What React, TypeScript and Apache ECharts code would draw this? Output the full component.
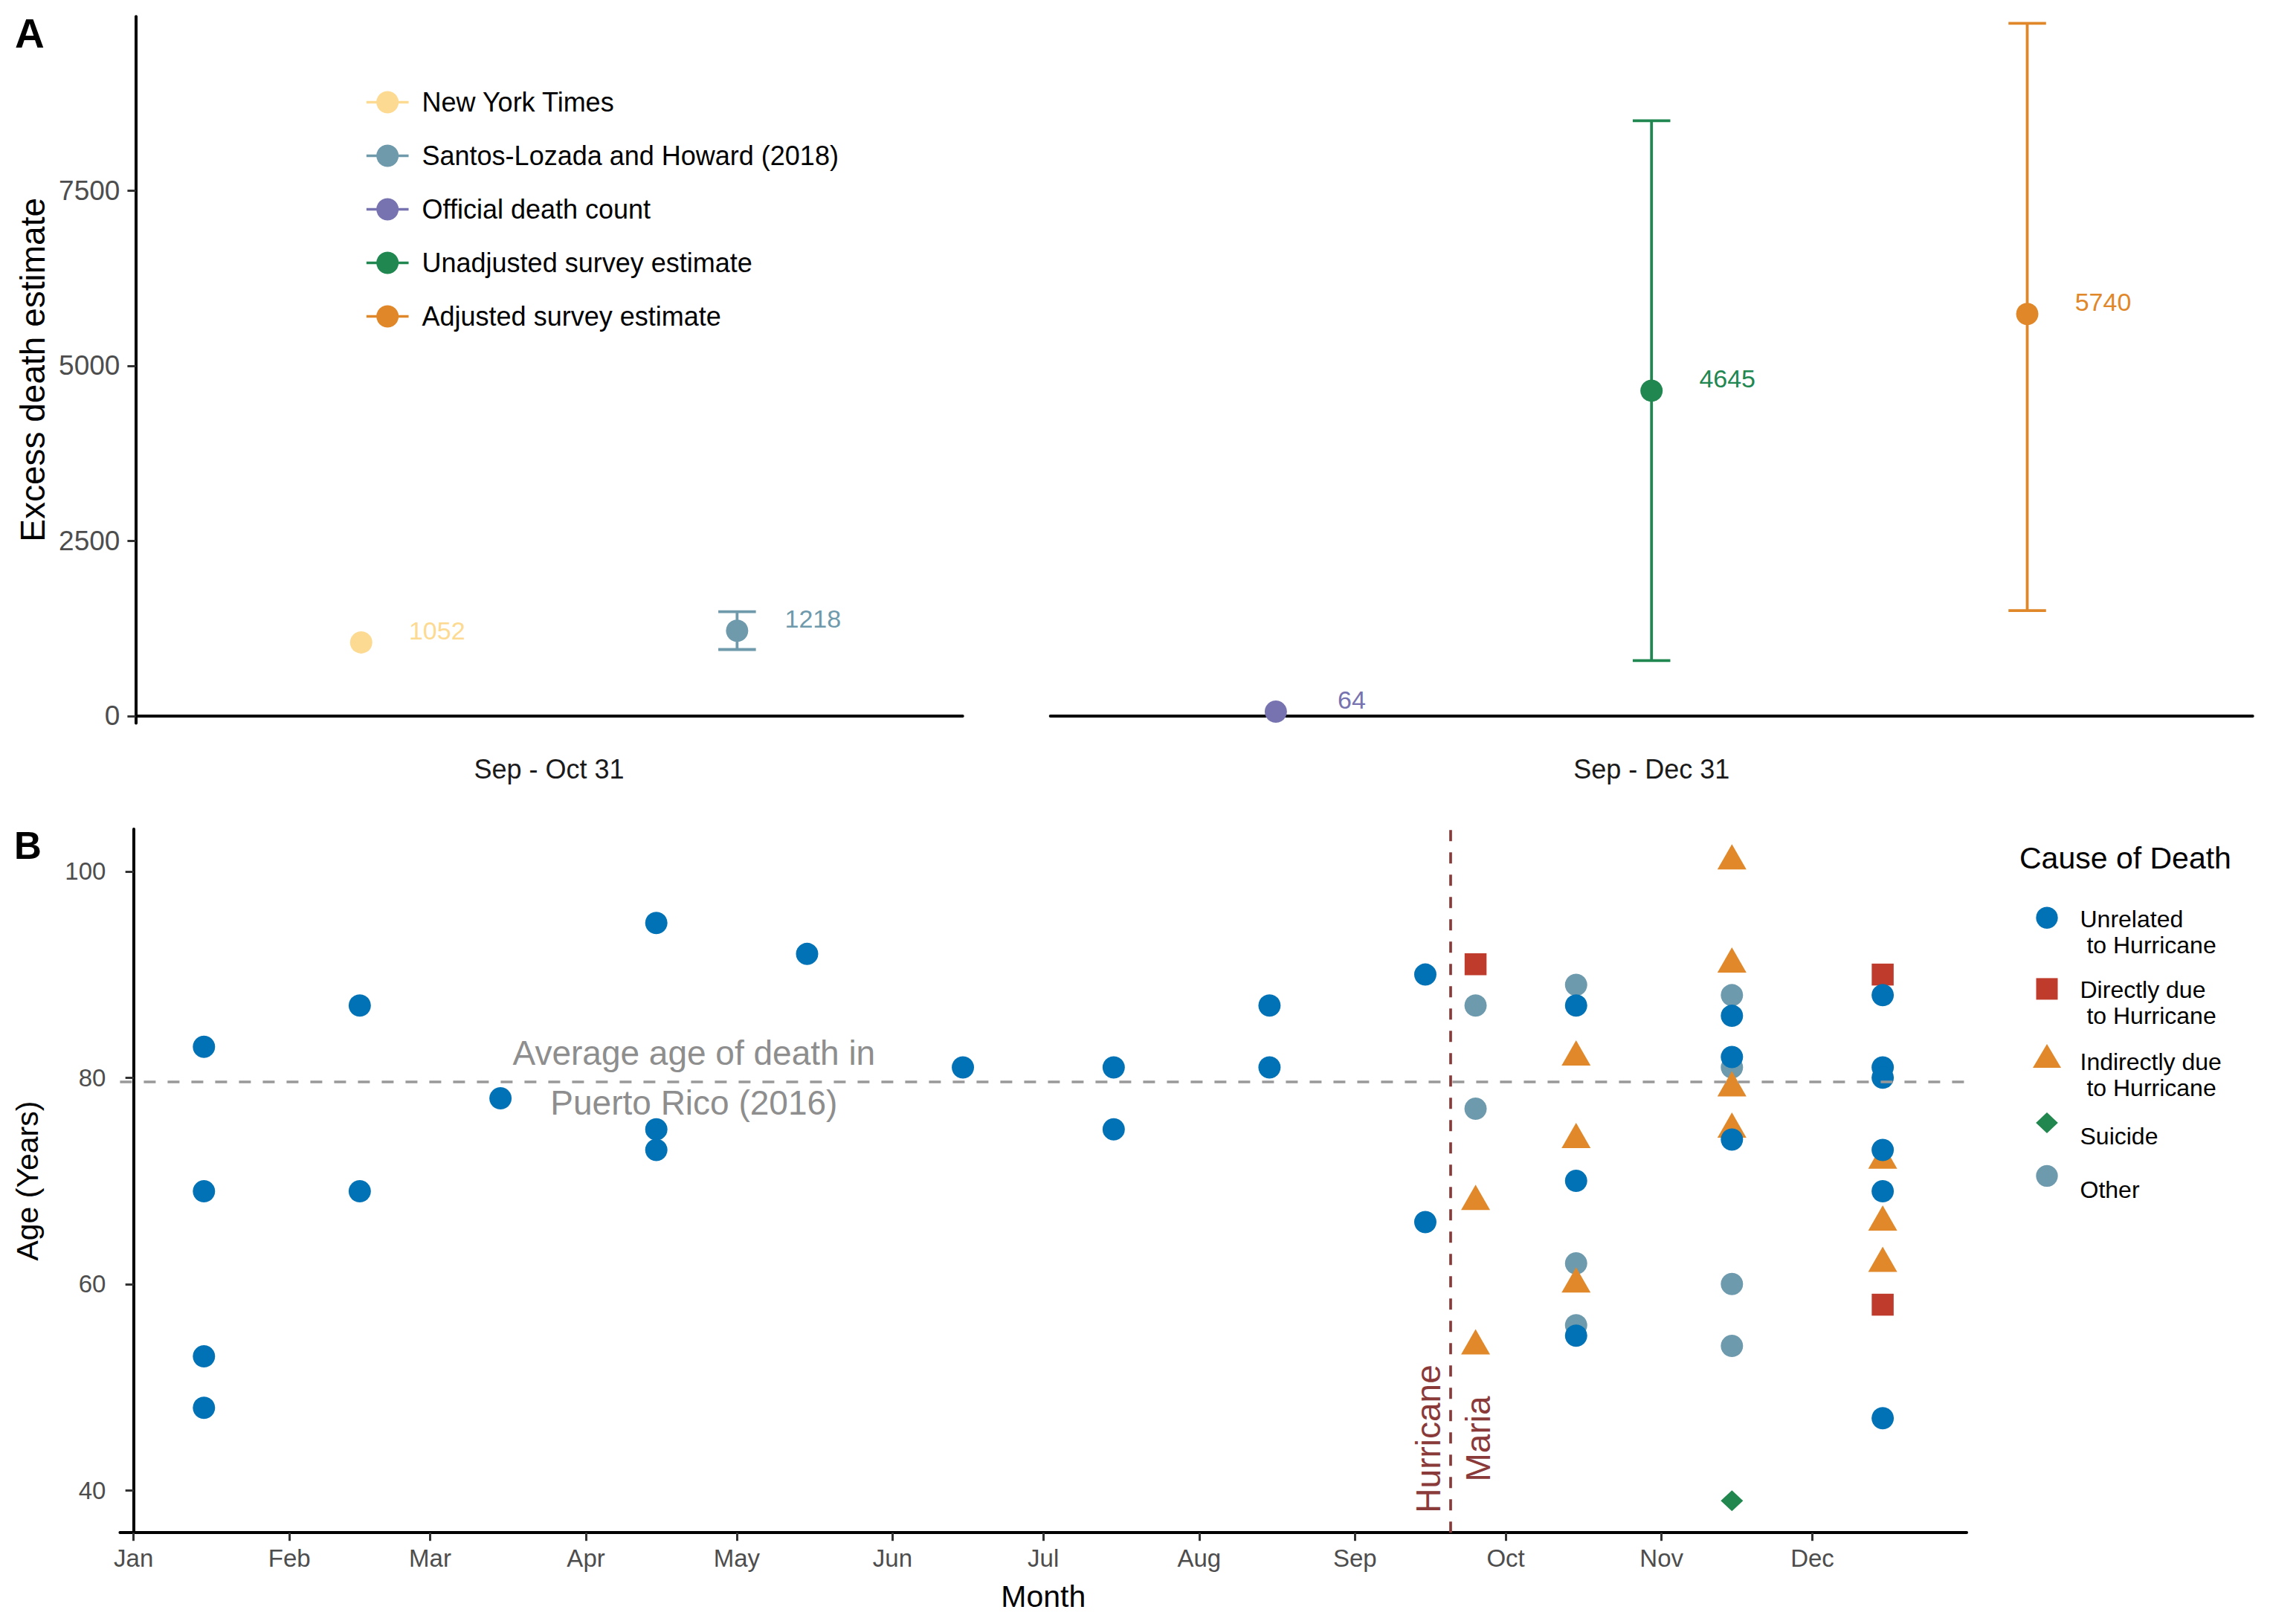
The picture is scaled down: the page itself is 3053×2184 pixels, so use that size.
import React, { useEffect, useRef } from "react";
import * as echarts from "echarts";

const FONT = "'Liberation Sans', Arial, Helvetica, sans-serif";

// ---------------- Panel A data ----------------
const estimateNames = [
  "New York Times",
  "Santos-Lozada and Howard (2018)",
  "Official death count",
  "Unadjusted survey estimate",
  "Adjusted survey estimate",
];
const periodLabels = ["Sep - Oct 31", "Sep - Dec 31"];
const estimatePeriod = [0, 0, 1, 1, 1];
const estimateValues = [1052, 1218, 64, 4645, 5740];
const estimateLower: (number | null)[] = [null, 950, null, 793, 1506];
const estimateUpper: (number | null)[] = [null, 1490, null, 8498, 9889];
const estimateColors = ["#FDDA91", "#6E9AAC", "#7773B0", "#218750", "#E0872A"];
const excessTicks = [0, 2500, 5000, 7500];
const excessMin = -101;
const excessMax = 9985;

// ---------------- Panel B data ----------------
const monthTickLabels = ["Jan", "Feb", "Mar", "Apr", "May", "Jun", "Jul", "Aug", "Sep", "Oct", "Nov", "Dec"];
const ageTicks = [40, 60, 80, 100];
const averageAgeOfDeath = 79.6;
const hurricaneDate = "2017-09-20";

const unrelatedDeaths: [string, number][] = [
  ["2017-01-15", 83], ["2017-01-15", 69], ["2017-01-15", 53], ["2017-01-15", 48],
  ["2017-02-15", 87], ["2017-02-15", 69],
  ["2017-03-15", 78],
  ["2017-04-15", 95], ["2017-04-15", 75], ["2017-04-15", 73],
  ["2017-05-15", 92],
  ["2017-06-15", 81],
  ["2017-07-15", 81], ["2017-07-15", 75],
  ["2017-08-15", 87], ["2017-08-15", 81],
  ["2017-09-15", 90], ["2017-09-15", 66],
  ["2017-10-15", 87], ["2017-10-15", 70], ["2017-10-15", 55],
  ["2017-11-15", 86], ["2017-11-15", 82], ["2017-11-15", 74],
  ["2017-12-15", 88], ["2017-12-15", 81], ["2017-12-15", 80], ["2017-12-15", 73], ["2017-12-15", 69], ["2017-12-15", 47],
];
const directDeaths: [string, number][] = [
  ["2017-09-25", 91], ["2017-12-15", 90], ["2017-12-15", 58],
];
const indirectDeaths: [string, number][] = [
  ["2017-09-25", 68], ["2017-09-25", 54],
  ["2017-10-15", 82], ["2017-10-15", 74], ["2017-10-15", 60],
  ["2017-11-15", 101], ["2017-11-15", 91], ["2017-11-15", 79], ["2017-11-15", 75],
  ["2017-12-15", 72], ["2017-12-15", 66], ["2017-12-15", 62],
];
const suicideDeaths: [string, number][] = [["2017-11-15", 39]];
const otherDeaths: [string, number][] = [
  ["2017-09-25", 87], ["2017-09-25", 77],
  ["2017-10-15", 89], ["2017-10-15", 62], ["2017-10-15", 56],
  ["2017-11-15", 88], ["2017-11-15", 81], ["2017-11-15", 60], ["2017-11-15", 54],
];

const causeNames = [
  "Unrelated\n to Hurricane",
  "Directly due\n to Hurricane",
  "Indirectly due\n to Hurricane",
  "Suicide",
  "Other",
];
const causeColors = ["#0072B5", "#BF3B2B", "#E0882A", "#21874F", "#6E9AAD"];

const annotationTexts = ["Average age of death in\nPuerto Rico (2016)", "Hurricane\nMaria"];
const annotationPoints: [number, number][] = [
  [111.5, 80],
  [262.6, 45],
];

// ---------------- helpers ----------------
const DAY = 86400000;
const dayOfYear = (s: string) => (Date.parse(s + "T00:00:00Z") - Date.parse("2017-01-01T00:00:00Z")) / DAY;
const monthStarts = monthTickLabels.map((_, i) => dayOfYear(`2017-${String(i + 1).padStart(2, "0")}-01`));

export default function App() {
  const ref = useRef<HTMLDivElement>(null);

  useEffect(() => {
    if (!ref.current) return;
    const chart = echarts.init(ref.current, undefined, { renderer: "svg" });

    // --- panel A positions within facets
    const pos: number[] = [];
    const counts = [0, 0];
    estimatePeriod.forEach((p, i) => {
      counts[p] += 1;
      pos[i] = counts[p];
    });

    // --- panel B ranges (ggplot 5% expansion)
    const causeData = [unrelatedDeaths, directDeaths, indirectDeaths, suicideDeaths, otherDeaths];
    const allDays = causeData.flat().map((d) => dayOfYear(d[0]));
    const allAges = causeData.flat().map((d) => d[1]);
    const dMin = Math.min(...allDays), dMax = Math.max(...allDays);
    const aMin = Math.min(...allAges), aMax = Math.max(...allAges);
    const dPad = (dMax - dMin) * 0.05, aPad = (aMax - aMin) * 0.05;

    const tickStyle = { show: true, length: 11, lineStyle: { color: "#333333", width: 3 } };
    const axisLineStyle = { show: true, lineStyle: { color: "#000000", width: 4 } };

    const errorBarSeries = (facet: number) => ({
      type: "custom",
      xAxisIndex: facet,
      yAxisIndex: facet,
      silent: true,
      z: 2,
      data: estimateNames
        .map((_, i) => i)
        .filter((i) => estimatePeriod[i] === facet && estimateLower[i] != null)
        .map((i) => [pos[i], estimateLower[i], estimateUpper[i], i]),
      renderItem: (_p: any, api: any) => {
        const x = api.value(0);
        const a = api.coord([x, api.value(1)]);
        const b = api.coord([x, api.value(2)]);
        const half = api.size([0.1, 0])[0] / 2;
        const style = { stroke: estimateColors[api.value(3)], lineWidth: 3.8 };
        return {
          type: "group",
          children: [
            { type: "line", shape: { x1: a[0], y1: a[1], x2: b[0], y2: b[1] }, style },
            { type: "line", shape: { x1: a[0] - half, y1: a[1], x2: a[0] + half, y2: a[1] }, style },
            { type: "line", shape: { x1: b[0] - half, y1: b[1], x2: b[0] + half, y2: b[1] }, style },
          ],
        };
      },
    });

    const pointSeries = estimateNames.map((name, i) => ({
      type: "line",
      name,
      xAxisIndex: estimatePeriod[i],
      yAxisIndex: estimatePeriod[i],
      data: [[pos[i], estimateValues[i]]],
      symbol: "circle",
      symbolSize: 30,
      showSymbol: true,
      itemStyle: { color: estimateColors[i], opacity: 1 },
      lineStyle: { color: estimateColors[i], width: 3.7 },
      z: 3,
      label: {
        show: true,
        position: "inside",
        offset: [102, -16],
        formatter: String(estimateValues[i]),
        color: estimateColors[i],
        fontSize: 34,
        lineHeight: 34,
        fontFamily: FONT,
      },
    }));

    const causeSymbols: any[] = ["circle", "rect", "triangle", "diamond", "circle"];
    const causeSizes: any[] = [30, 29.5, [39, 34], [30, 28], 30];
    const causeOffsets: any[] = [[0, 0], [0, 0], [0, -5.67], [0, 0], [0, 0]];
    const drawOrder = [4, 2, 1, 0, 3];
    const causeSeries = drawOrder.map((k) => ({
      type: "scatter",
      name: causeNames[k],
      xAxisIndex: 2,
      yAxisIndex: 2,
      data: causeData[k].map((d) => [dayOfYear(d[0]), d[1]]),
      symbol: causeSymbols[k],
      symbolSize: causeSizes[k],
      symbolOffset: causeOffsets[k],
      itemStyle: { color: causeColors[k], opacity: 1 },
      z: 3,
    }));

    const refLineSeries = {
      type: "scatter",
      xAxisIndex: 2,
      yAxisIndex: 2,
      data: [],
      silent: true,
      z: 4,
      markLine: {
        silent: true,
        symbol: ["none", "none"],
        label: { show: false },
        animation: false,
        data: [
          { yAxis: averageAgeOfDeath, lineStyle: { color: "#999999", width: 3.6, type: [16, 16] } },
          { xAxis: dayOfYear(hurricaneDate), lineStyle: { color: "#8B3A3A", width: 3.7, type: [15, 15] } },
        ],
      },
    };

    const annotationColors = ["#8E8E8E", "#8B3A3A"];
    const annotationRotation = [0, Math.PI / 2];
    const annotationSeries = {
      type: "custom",
      xAxisIndex: 2,
      yAxisIndex: 2,
      silent: true,
      z: 5,
      data: annotationPoints.map((p, i) => [p[0], p[1], i]),
      renderItem: (_p: any, api: any) => {
        const idx = api.value(2);
        const pt = api.coord([api.value(0), api.value(1)]);
        return {
          type: "text",
          x: pt[0],
          y: pt[1],
          rotation: annotationRotation[idx],
          style: {
            text: annotationTexts[idx],
            fill: annotationColors[idx],
            fontSize: 46,
            fontFamily: FONT,
            align: "center",
            verticalAlign: "middle",
            lineHeight: 67,
          },
        };
      },
    };

    // ---- legend B (keys drawn as graphic elements)
    const keyX = 2753;
    const keyY = [1234.2, 1329.9, 1420, 1510, 1581.4];
    const keyTextY = [1253.5, 1348.7, 1445, 1528.3, 1599.6];
    const keyShape = (k: number): any => {
      const y = keyY[k];
      const fill = causeColors[k];
      if (k === 1) return { type: "rect", shape: { x: keyX - 14.5, y: y - 14.5, width: 29, height: 29 }, style: { fill } };
      if (k === 2)
        return { type: "polygon", shape: { points: [[keyX, y - 16], [keyX + 19, y + 16], [keyX - 19, y + 16]] }, style: { fill } };
      if (k === 3)
        return { type: "polygon", shape: { points: [[keyX, y - 13.9], [keyX + 14.8, y], [keyX, y + 13.9], [keyX - 14.8, y]] }, style: { fill } };
      return { type: "circle", shape: { cx: keyX, cy: y, r: 14.7 }, style: { fill } };
    };
    const legendGraphics: any[] = [];
    causeNames.forEach((name, k) => {
      legendGraphics.push({ ...keyShape(k), silent: true });
      legendGraphics.push({
        type: "text",
        x: 2797.5,
        y: keyTextY[k],
        silent: true,
        style: {
          text: name,
          fill: "#000000",
          fontSize: 32,
          lineHeight: 35,
          fontFamily: FONT,
          align: "left",
          verticalAlign: "middle",
        },
      });
    });

    const option: any = {
      animation: false,
      backgroundColor: "#ffffff",
      textStyle: { fontFamily: FONT },
      title: [
        { text: "A", left: 20, top: 17.8, padding: 0, textStyle: { fontSize: 55, lineHeight: 55, fontWeight: "bold", color: "#000", fontFamily: FONT } },
        { text: "B", left: 19, top: 1112, padding: 0, textStyle: { fontSize: 51, lineHeight: 51, fontWeight: "bold", color: "#000", fontFamily: FONT } },
        { text: "Cause of Death", left: 2716, top: 1133.5, padding: 0, textStyle: { fontSize: 41, lineHeight: 41, fontWeight: "normal", color: "#000", fontFamily: FONT } },
      ],
      legend: [
        {
          show: true,
          orient: "vertical",
          left: 491,
          top: 116,
          padding: 0,
          selectedMode: false,
          itemWidth: 56.7,
          itemHeight: 37.5,
          itemGap: 29,
          data: estimateNames,
          lineStyle: { width: 3.7 },
          textStyle: { color: "#000000", fontSize: 36, lineHeight: 36, fontFamily: FONT, padding: [7, 0, 0, 13] },
        },
      ],
      graphic: legendGraphics,
      grid: [
        { left: 182.4, top: 22.3, width: 1112.3, height: 950.2, containLabel: false },
        { left: 1412.7, top: 22.3, width: 1617, height: 950.2, containLabel: false },
        { left: 161.4, top: 1115, width: 2483.6, height: 946.2, containLabel: false },
      ],
      xAxis: [
        ...[0, 1].map((f) => ({
          type: "value",
          gridIndex: f,
          min: 0.4,
          max: counts[f] + 0.6,
          axisLine: axisLineStyle,
          axisTick: { show: false },
          axisLabel: { show: false },
          splitLine: { show: false },
          name: periodLabels[f],
          nameLocation: "middle",
          nameGap: 43.5,
          nameTextStyle: { fontSize: 36, lineHeight: 36, color: "#1A1A1A", fontFamily: FONT },
        })),
        {
          type: "value",
          gridIndex: 2,
          min: dMin - dPad,
          max: dMax + dPad,
          axisLine: axisLineStyle,
          axisTick: { ...tickStyle, customValues: monthStarts },
          axisLabel: {
            customValues: monthStarts,
            formatter: (v: number) => monthTickLabels[monthStarts.findIndex((m) => Math.abs(m - v) < 0.5)] ?? "",
            fontSize: 33,
            lineHeight: 33,
            color: "#4D4D4D",
            margin: 18,
            fontFamily: FONT,
          },
          splitLine: { show: false },
          name: "Month",
          nameLocation: "middle",
          nameGap: 65,
          nameTextStyle: { fontSize: 41, lineHeight: 41, color: "#000000", fontFamily: FONT },
        },
      ],
      yAxis: [
        {
          type: "value",
          gridIndex: 0,
          min: excessMin,
          max: excessMax,
          axisLine: axisLineStyle,
          axisTick: { ...tickStyle, customValues: excessTicks },
          axisLabel: {
            customValues: excessTicks,
            formatter: (v: number) => String(v),
            fontSize: 37,
            lineHeight: 37,
            color: "#4D4D4D",
            margin: 21,
            fontFamily: FONT,
          },
          splitLine: { show: false },
          name: "Excess death estimate",
          nameLocation: "middle",
          nameGap: 115,
          nameTextStyle: { fontSize: 46, lineHeight: 46, color: "#000000", fontFamily: FONT },
        },
        {
          type: "value",
          gridIndex: 1,
          min: excessMin,
          max: excessMax,
          axisLine: { show: false },
          axisTick: { show: false },
          axisLabel: { show: false },
          splitLine: { show: false },
        },
        {
          type: "value",
          gridIndex: 2,
          min: aMin - aPad,
          max: aMax + aPad,
          axisLine: axisLineStyle,
          axisTick: { ...tickStyle, customValues: ageTicks },
          axisLabel: {
            customValues: ageTicks,
            formatter: (v: number) => String(v),
            fontSize: 33,
            lineHeight: 33,
            color: "#4D4D4D",
            margin: 19,
            fontFamily: FONT,
          },
          splitLine: { show: false },
          name: "Age (Years)",
          nameLocation: "middle",
          nameGap: 104,
          nameTextStyle: { fontSize: 41, lineHeight: 41, color: "#000000", fontFamily: FONT },
        },
      ],
      series: [
        errorBarSeries(0),
        errorBarSeries(1),
        ...pointSeries,
        ...causeSeries,
        refLineSeries,
        annotationSeries,
      ],
    };

    chart.setOption(option);
    return () => chart.dispose();
  }, []);

  return (
    <div
      ref={ref}
      style={{ position: "fixed", left: 0, top: 0, width: 3053, height: 2184, background: "#ffffff" }}
    />
  );
}
